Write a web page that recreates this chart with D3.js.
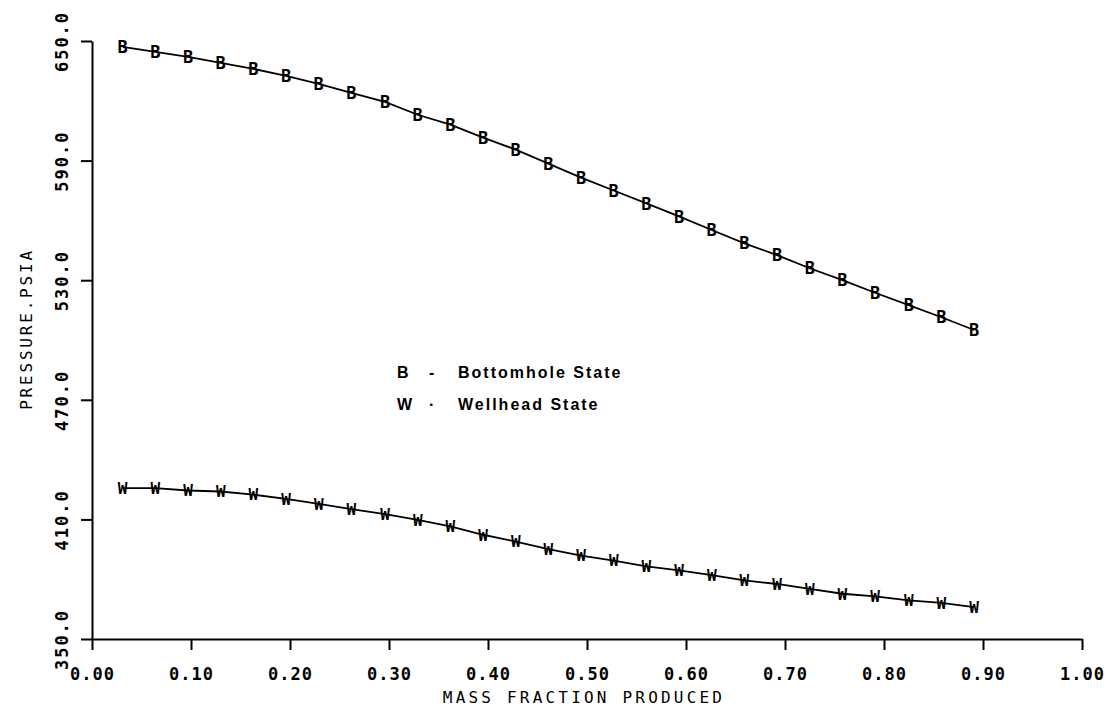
<!DOCTYPE html>
<html lang="en">
<head>
    <meta charset="UTF-8">
    <title>Pressure vs Mass Fraction Produced</title>
    <script src="https://d3js.org/d3.v7.min.js"></script>
    <style>
        body {
            margin: 0;
            background: #fff;
        }
        svg {
            display: block;
        }
        .axis path, .axis line {
            stroke: #000;
            stroke-width: 2;
        }
        .axis text {
            font-family: "DejaVu Sans Mono", monospace;
            font-size: 17px;
            font-weight: bold;
            letter-spacing: 1px;
            fill: #000;
        }
        .axis-label {
            font-family: "DejaVu Sans Mono", monospace;
            font-size: 16px;
            fill: #000;
        }
        .curve {
            fill: none;
            stroke: #000;
            stroke-width: 1.8;
        }
        .marker {
            font-family: "DejaVu Sans Mono", monospace;
            font-weight: bold;
            fill: #000;
        }
        .legend {
            font-family: "Liberation Sans", Arial, sans-serif;
            font-size: 16px;
            font-weight: bold;
            letter-spacing: 2px;
            fill: #000;
        }
    </style>
</head>
<body>
    <svg></svg>

    <script>
        // values
        const massFraction = [0.031, 0.064, 0.097, 0.130, 0.163, 0.196, 0.229, 0.262, 0.296,
            0.329, 0.362, 0.395, 0.428, 0.461, 0.494, 0.527, 0.560, 0.593,
            0.626, 0.659, 0.692, 0.725, 0.758, 0.791, 0.825, 0.858, 0.891];
        const bottomhole = [647, 644.5, 642, 639, 636, 632.5, 628.5, 624, 619.5,
            613, 608, 601.5, 595.5, 588.5, 581.5, 575, 568.5, 562,
            555.2, 548.5, 542.6, 536, 530, 523.7, 517.5, 511.4, 505];
        const wellhead = [425.7, 425.7, 424.5, 424, 422.4, 420.3, 417.8, 415.2, 412.7,
            409.8, 406.5, 402.3, 398.9, 395.1, 391.8, 389.3, 386.4, 384.4,
            382, 379.4, 377.6, 375.1, 372.7, 371.4, 369.4, 368.1, 366];
        const xTicks = [0, 0.1, 0.2, 0.3, 0.4, 0.5, 0.6, 0.7, 0.8, 0.9, 1.0];
        const yTicks = [350, 410, 470, 530, 590, 650];
        const legendItems = [
            { key: "B", label: "Bottomhole State" },
            { key: "W", label: "Wellhead State" }
        ];

        const width = 1118;
        const height = 713;
        const margin = { top: 41, right: 36, bottom: 74, left: 92 };

        const svg = d3.select("svg")
            .attr("width", width)
            .attr("height", height);

        const x = d3.scaleLinear()
            .domain([0, 1])
            .range([margin.left, width - margin.right]);

        const y = d3.scaleLinear()
            .domain([350, 650])
            .range([height - margin.bottom, margin.top]);

        // X axis
        svg.append("g")
            .attr("class", "axis")
            .attr("transform", `translate(0, ${height - margin.bottom})`)
            .call(d3.axisBottom(x).tickValues(xTicks).tickFormat(d3.format(".2f"))
                .tickSize(11).tickSizeOuter(0).tickPadding(18));

        // Y axis, labels turned on their side
        svg.append("g")
            .attr("class", "axis")
            .attr("transform", `translate(${margin.left}, 0)`)
            .call(d3.axisLeft(y).tickValues(yTicks).tickFormat(d3.format(".1f"))
                .tickSize(11).tickSizeOuter(0))
            .selectAll("text")
            .attr("x", 0)
            .attr("dy", "0.35em")
            .style("letter-spacing", "2px")
            .attr("transform", "translate(-30, 0) rotate(-90)")
            .style("text-anchor", "middle");

        // axis titles
        svg.append("text")
            .attr("class", "axis-label")
            .attr("x", 584)
            .attr("y", 703)
            .attr("text-anchor", "middle")
            .style("letter-spacing", "3.2px")
            .text("MASS FRACTION PRODUCED");

        svg.append("text")
            .attr("class", "axis-label")
            .attr("transform", "translate(32, 329) rotate(-90)")
            .attr("text-anchor", "middle")
            .style("letter-spacing", "2.8px")
            .text("PRESSURE.PSIA");

        const line = d3.line()
            .x(d => x(d[0]))
            .y(d => y(d[1]));

        const series = [
            { key: "B", values: d3.zip(massFraction, bottomhole), size: 17 },
            { key: "W", values: d3.zip(massFraction, wellhead), size: 16 }
        ];

        series.forEach(s => {
            svg.append("path")
                .datum(s.values)
                .attr("class", "curve")
                .attr("d", line);

            svg.selectAll(".marker-" + s.key)
                .data(s.values)
                .join("text")
                .attr("class", "marker marker-" + s.key)
                .attr("x", d => x(d[0]))
                .attr("y", d => y(d[1]))
                .attr("dy", "0.36em")
                .attr("text-anchor", "middle")
                .style("font-size", s.size + "px")
                .text(s.key);
        });

        // legend
        const legend = svg.append("g")
            .attr("transform", "translate(397, 378)");

        legend.selectAll("g")
            .data(legendItems)
            .join("g")
            .attr("transform", (d, i) => `translate(0, ${i * 32})`)
            .each(function(d) {
                const g = d3.select(this);
                g.append("text").attr("class", "legend").attr("x", 0).text(d.key);
                g.append("text").attr("class", "legend").attr("x", 32).text(d.key === "B" ? "-" : "·");
                g.append("text").attr("class", "legend").attr("x", 61).text(d.label);
            });
    </script>
</body>
</html>
